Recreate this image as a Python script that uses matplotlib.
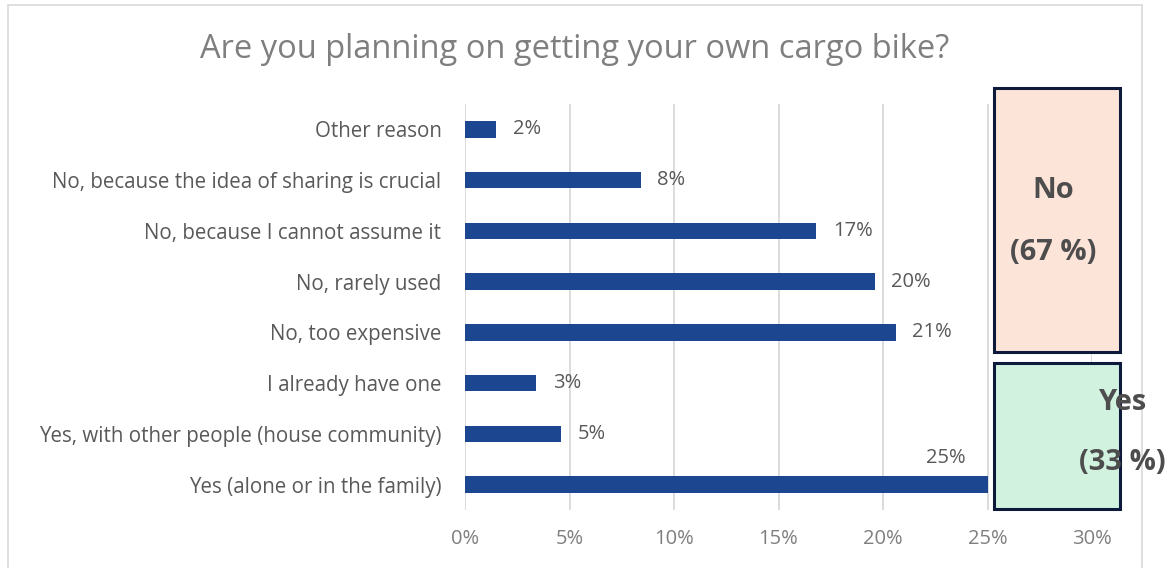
import matplotlib.pyplot as plt
from matplotlib.patches import Rectangle

plt.rcParams['font.family'] = ['Open Sans', 'DejaVu Sans']

# Survey answers, bottom to top
categories = [
    'Yes (alone or in the family)',
    'Yes, with other people (house community)',
    'I already have one',
    'No, too expensive',
    'No, rarely used',
    'No, because I cannot assume it',
    'No, because the idea of sharing is crucial',
    'Other reason',
]
shares = [25.0, 4.6, 3.4, 20.6, 19.6, 16.8, 8.4, 1.5]
ticks = [0, 5, 10, 15, 20, 25, 30]
summary_no = 67
summary_yes = 33

W, H = 1175, 568
fig = plt.figure(figsize=(W / 100, H / 100), dpi=100)
ax = fig.add_axes([465 / W, 1 - 510 / H, 627 / W, 406 / H])

ypos = range(len(categories))
ax.barh(ypos, shares, height=0.33, color='#1d4690', zorder=3)

for y, v in zip(ypos, shares):
    txt = f'{v:.0f}%'
    if v >= 24:
        # no room to the right: put the label above the bar end
        ax.text(v - 2.0, y + 0.52, txt, ha='center', va='center',
                fontsize=14.5, color='#595959')
    else:
        ax.text(v + 0.8, y, txt, ha='left', va='center',
                fontsize=14.5, color='#595959')

ax.set_xlim(0, 30)
ax.set_ylim(-0.5, len(categories) - 0.5)
ax.set_xticks(ticks)
ax.set_xticklabels([f'{t}%' for t in ticks], fontsize=14.5, color='#7f7f7f')
ax.set_yticks(list(ypos))
ax.set_yticklabels(categories, fontsize=14.8, color='#595959')
ax.tick_params(length=0)
ax.tick_params(axis='x', pad=14)
ax.tick_params(axis='y', pad=17)
ax.grid(axis='x', color='#d9d9d9', linewidth=1.3, zorder=0)
for s in ax.spines.values():
    s.set_visible(False)

fig.suptitle('Are you planning on getting your own cargo bike?',
             x=575 / W, y=1 - 50 / H, va='center', fontsize=23.5, color='#7f7f7f')

# outer chart frame
fig.patches.append(Rectangle((8 / W, -0.02), 1134 / W, 1.02 - 5 / H,
                             transform=fig.transFigure, fill=False,
                             edgecolor='#d9d9d9', linewidth=1.2))

# summary boxes
fig.patches.append(Rectangle((994 / W, 1 - 352 / H), 126 / W, 264 / H,
                             transform=fig.transFigure, facecolor='#fde4d9',
                             edgecolor='#0e1a3c', linewidth=2.2, zorder=5))
fig.patches.append(Rectangle((994 / W, 1 - 509 / H), 126 / W, 146 / H,
                             transform=fig.transFigure, facecolor='#d0f2de',
                             edgecolor='#0e1a3c', linewidth=2.2, zorder=5))

box_txt = dict(ha='center', va='center', fontsize=21, fontweight='bold',
               color='#4d4d4d', zorder=6)
fig.text(1053 / W, 1 - 190 / H, 'No', **box_txt)
fig.text(1053 / W, 1 - 253 / H, f'({summary_no} %)', **box_txt)
fig.text(1122 / W, 1 - 403 / H, 'Yes', **box_txt)
fig.text(1122 / W, 1 - 463 / H, f'({summary_yes} %)', **box_txt)

fig.savefig('out.png', dpi=100)
